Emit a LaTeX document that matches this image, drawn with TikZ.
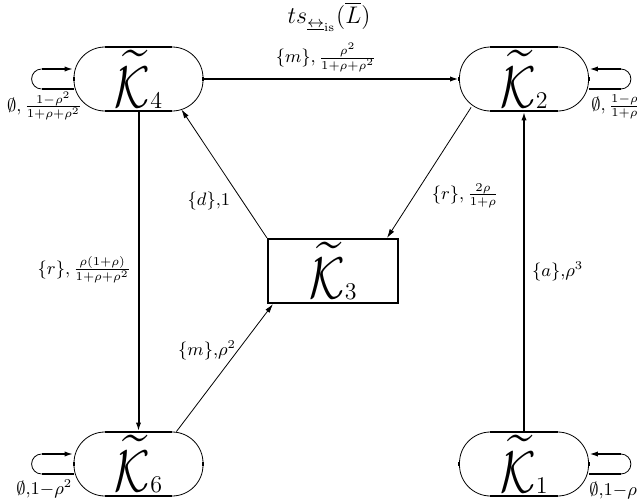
\documentclass[tikz,border=0pt]{standalone}
\usepackage{amsmath,amssymb,graphicx}
\usetikzlibrary{arrows.meta,calc}
\newcommand{\Ktil}[1]{\scalebox{0.92}[1.18]{\Huge$\widetilde{\mathcal{K}}$}\raisebox{-0.5pt}{\large #1}}
\begin{document}
\begin{tikzpicture}[x=0.5pt,y=-0.5pt,
  stad/.style={minimum width=64.5pt, minimum height=32pt, inner sep=0pt, draw, line width=0.4pt, rounded corners=15.5pt},
  sbox/.style={draw, line width=1pt, minimum width=65pt, minimum height=32pt, inner sep=0pt},
  thk/.style={line width=1pt},
  thn/.style={line width=0.4pt},
  arr/.style={-{Latex[length=4.5pt,width=2.6pt]}},
  lab/.style={inner sep=0pt, font=\small}]
\useasboundingbox (0,0) rectangle (637,503);
\clip (0,0) rectangle (637,503);

\node (title) at (329,17) {\large $ts_{\underline{\leftrightarrow}_{\mathrm{is}}}(\overline{L})$};

\node[stad] (K4) at (138.5,79) {\Ktil{4}};
\node[stad] (K2) at (524,79) {\Ktil{2}};
\node[stad] (K6) at (138.5,464) {\Ktil{6}};
\node[stad] (K1) at (524,464) {\Ktil{1}};
\node[sbox] (K3) at (333,271) {\Ktil{3}};

% thick straight parts of the rounded nodes
\foreach \n in {K4,K2,K6,K1}{
  \draw[thk] ([xshift=15.5pt]\n.north west) -- ([xshift=-15.5pt]\n.north east);
  \draw[thk] ([xshift=15.5pt]\n.south west) -- ([xshift=-15.5pt]\n.south east);
  \draw[thk] ([yshift=1pt]\n.west) -- ([yshift=-1pt]\n.west);
  \draw[thk] ([yshift=1pt]\n.east) -- ([yshift=-1pt]\n.east);
}

% straight edges
\draw[thk,arr] (K4.east) -- node[lab,pos=0.48,anchor=south,yshift=3.25pt]{$\{m\},\frac{\rho^2}{1+\rho+\rho^2}$} (K2.west);
\draw[thk,arr] (K4.south) -- node[lab,pos=0.495,anchor=east,xshift=-3.25pt]{$\{r\},\frac{\rho(1+\rho)}{1+\rho+\rho^2}$} (K6.north);
\draw[thk,arr] (K1.north) -- node[lab,pos=0.5,anchor=west,xshift=3.5pt]{$\{a\}{,}\rho^3$} (K2.south);

% diagonal edges
\draw[thn,arr] (K3.north west) -- node[lab,pos=0.29,anchor=east,xshift=-5.8pt]{$\{d\}{,}1$} ([xshift=-11pt,yshift=1pt]K4.south east);
\draw[thn,arr] ([xshift=6pt,yshift=2pt]K2.south west) -- node[lab,pos=0.674,anchor=west,xshift=8.5pt]{$\{r\},\frac{2\rho}{1+\rho}$} ([xshift=-6pt]K3.north east);
\draw[thn,arr] ([xshift=-13.5pt]K6.north east) -- node[lab,pos=0.636,anchor=east,xshift=-0.7pt]{$\{m\}{,}\rho^2$} ([xshift=3pt]K3.south west);

% self loops (left)
\foreach \n in {K4,K6}{
  \draw[thk] ([yshift=-5pt]\n.west) -- ++(-16pt,0) coordinate (a\n);
  \draw[thn] (a\n) arc[start angle=270,end angle=90,radius=5pt] coordinate (b\n);
  \draw[thk,arr] (b\n) -- ([yshift=5pt]\n.west);
}
% self loops (right)
\foreach \n in {K2,K1}{
  \draw[thk] ([yshift=-5pt]\n.east) -- ++(16pt,0) coordinate (a\n);
  \draw[thn] (a\n) arc[start angle=-90,end angle=90,radius=5pt] coordinate (b\n);
  \draw[thk,arr] (b\n) -- ([yshift=5pt]\n.east);
}

\node[lab,anchor=east] (l4) at ([xshift=4.5pt,yshift=-13.5pt]K4.west) {$\emptyset,\frac{1-\rho^2}{1+\rho+\rho^2}$};
\node[lab,anchor=west] (l2) at ([xshift=1pt,yshift=-14pt]K2.east) {$\emptyset,\frac{1-\rho}{1+\rho}$};
\node[lab,anchor=east] (l6) at ([xshift=-0.5pt,yshift=-12.5pt]K6.west) {$\emptyset{,}1{-}\rho^2$};
\node[lab,anchor=west] (l1) at ([yshift=-13pt]K1.east) {$\emptyset{,}1{-}\rho^3$};
\end{tikzpicture}
\end{document}
